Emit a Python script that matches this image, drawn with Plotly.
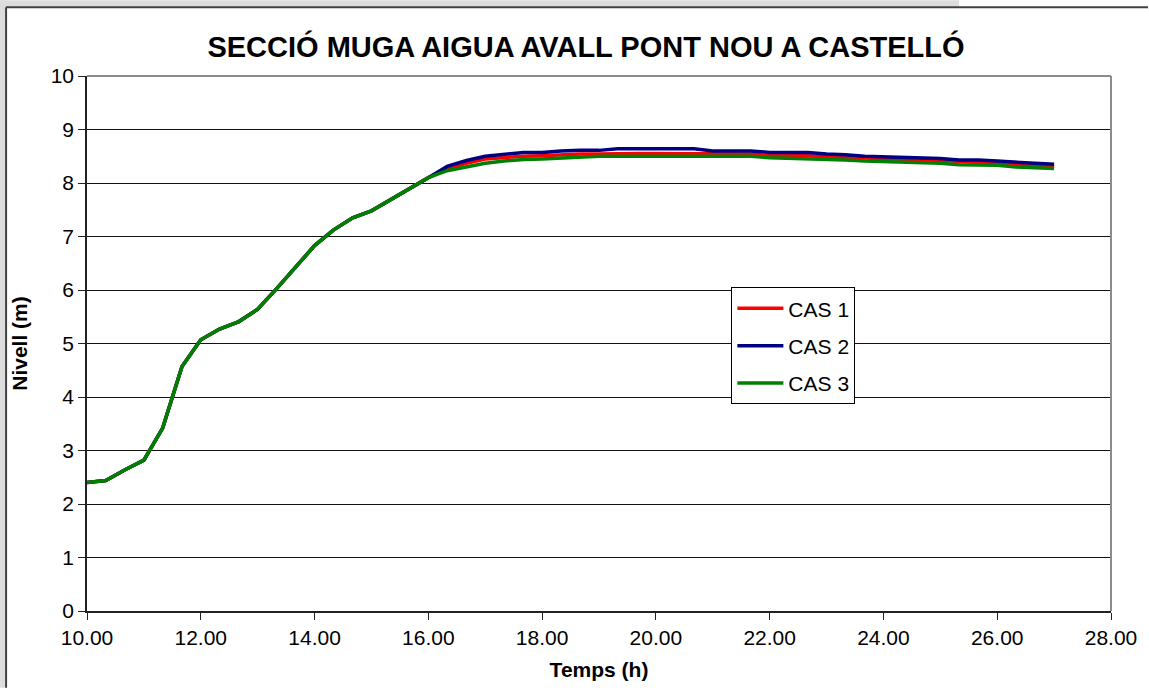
import plotly.graph_objects as go

# time in hours, 20-minute steps
temps = [10.00, 10.33, 10.67, 11.00, 11.33, 11.67, 12.00, 12.33, 12.67, 13.00,
         13.33, 13.67, 14.00, 14.33, 14.67, 15.00, 15.33, 15.67, 16.00, 16.33,
         16.67, 17.00, 17.33, 17.67, 18.00, 18.33, 18.67, 19.00, 19.33, 19.67,
         20.00, 20.33, 20.67, 21.00, 21.33, 21.67, 22.00, 22.33, 22.67, 23.00,
         23.33, 23.67, 24.00, 24.33, 24.67, 25.00, 25.33, 25.67, 26.00, 26.33,
         26.67, 27.00]

# common rising limb (10.00 - 16.00 h)
pujada = [2.40, 2.44, 2.64, 2.82, 3.42, 4.57, 5.07, 5.27, 5.41, 5.64,
          6.02, 6.44, 6.83, 7.12, 7.35, 7.48, 7.68, 7.90, 8.10]

# 16.33 - 27.00 h
cua_cas1 = [8.27, 8.37, 8.45, 8.48, 8.50, 8.51, 8.53, 8.54, 8.54, 8.55,
            8.55, 8.55, 8.55, 8.55, 8.55, 8.55, 8.54, 8.51, 8.51, 8.51,
            8.49, 8.48, 8.46, 8.45, 8.44, 8.43, 8.42, 8.40, 8.39, 8.37,
            8.35, 8.33, 8.31]
cua_cas2 = [8.31, 8.42, 8.50, 8.54, 8.57, 8.57, 8.60, 8.61, 8.61, 8.64,
            8.64, 8.64, 8.64, 8.64, 8.60, 8.60, 8.60, 8.57, 8.57, 8.57,
            8.54, 8.53, 8.50, 8.49, 8.47, 8.47, 8.46, 8.43, 8.43, 8.41,
            8.39, 8.37, 8.35]
cua_cas3 = [8.23, 8.30, 8.37, 8.41, 8.44, 8.45, 8.47, 8.49, 8.50, 8.50,
            8.50, 8.50, 8.50, 8.50, 8.50, 8.50, 8.50, 8.47, 8.46, 8.46,
            8.44, 8.43, 8.41, 8.40, 8.39, 8.37, 8.37, 8.34, 8.33, 8.33,
            8.30, 8.29, 8.27]

series = [
    ("CAS 1", pujada + cua_cas1, "#ff0000"),
    ("CAS 2", pujada + cua_cas2, "#000080"),
    ("CAS 3", pujada + cua_cas3, "#008000"),
]

FONT = "Arial, Liberation Sans, sans-serif"

fig = go.Figure()
for name, nivell, color in series:
    fig.add_trace(go.Scatter(x=temps, y=nivell, mode="lines", name=name,
                             legendgroup=name,
                             line=dict(color=color, width=3.5)))

fig.update_layout(
    width=1149, height=690,
    margin=dict(l=87, r=37, t=76, b=77),
    paper_bgcolor="white", plot_bgcolor="white",
    font=dict(family=FONT, size=21, color="black"),
    title=dict(text="<b>SECCIÓ MUGA AIGUA AVALL PONT NOU A CASTELLÓ</b>",
               x=586 / 1149, xanchor="center", y=1 - 47 / 690, yanchor="middle",
               font=dict(family=FONT, size=29, color="black")),
    showlegend=True,
    legend=dict(x=(732 - 87) / 1025, y=(613 - 288) / 537, xanchor="left", yanchor="top",
                bgcolor="white", bordercolor="black", borderwidth=1,
                itemwidth=46,
                font=dict(family=FONT, size=21), tracegroupgap=7),
)

fig.update_xaxes(range=[10, 28], tickvals=[10, 12, 14, 16, 18, 20, 22, 24, 26, 28],
                 tickformat=".2f", showgrid=False, zeroline=False,
                 showline=True, linecolor="#222222", linewidth=1.5,
                 ticks="outside", ticklen=7, tickcolor="#222222",
                 title=dict(text="<b>Temps (h)</b>", standoff=14,
                            font=dict(family=FONT, size=21)))
fig.update_yaxes(range=[0, 10], dtick=1, showgrid=True, gridcolor="#111111", gridwidth=1,
                 zeroline=False, showline=True, linecolor="#222222", linewidth=1.5,
                 ticks="outside", ticklen=7, tickcolor="#222222",
                 title=dict(text="<b>Nivell (m)</b>", standoff=17,
                            font=dict(family=FONT, size=21)))

# plot area border (gray top/right)
fig.add_shape(type="line", xref="paper", yref="paper", x0=0, x1=1, y0=1, y1=1,
              line=dict(color="#8c8c8c", width=2), layer="above")
fig.add_shape(type="line", xref="paper", yref="paper", x0=1, x1=1, y0=0, y1=1,
              line=dict(color="#8c8c8c", width=2), layer="above")

# outer frame of the chart object
px = lambda v: (v - 87) / 1025
py = lambda v: (613 - v) / 537
fig.add_shape(type="rect", xref="paper", yref="paper", x0=px(0), x1=px(5), y0=py(690), y1=py(0),
              fillcolor="#dcdcdc", line=dict(width=0), layer="below")
fig.add_shape(type="rect", xref="paper", yref="paper", x0=px(0), x1=px(960), y0=py(7), y1=py(0),
              fillcolor="#dcdcdc", line=dict(width=0), layer="below")
fig.add_shape(type="line", xref="paper", yref="paper", x0=px(6), x1=px(6), y0=py(690), y1=py(7),
              line=dict(color="#404040", width=2), layer="below")
fig.add_shape(type="line", xref="paper", yref="paper", x0=px(6), x1=px(1149), y0=py(7), y1=py(7),
              line=dict(color="#404040", width=2), layer="below")

fig.write_html("out.html", config={"displayModeBar": False},
               post_script="document.body.style.margin='0';document.body.style.overflow='hidden';")
